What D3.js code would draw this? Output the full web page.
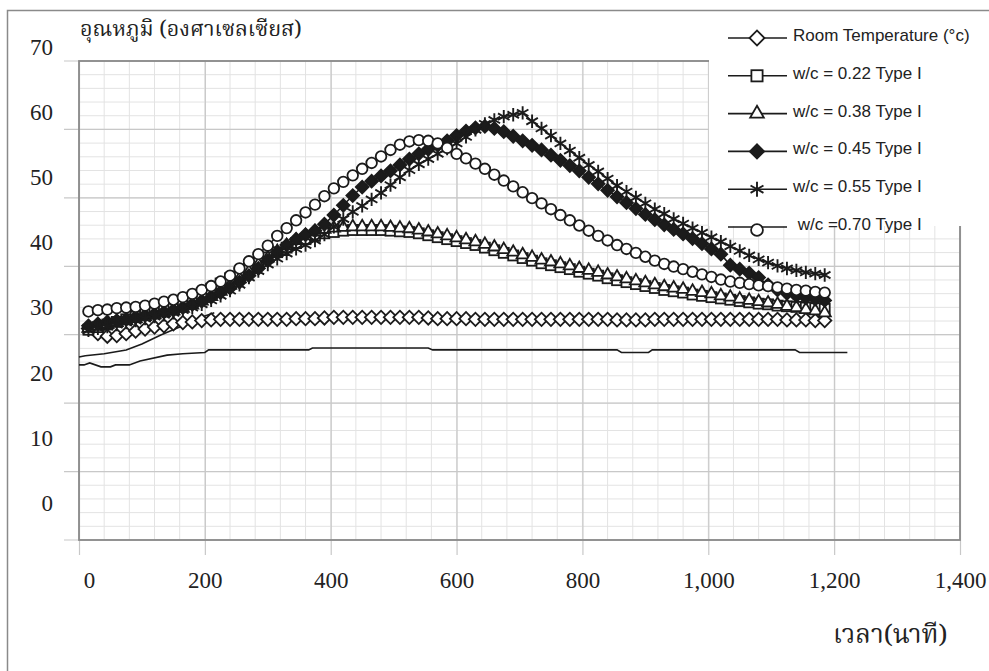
<!DOCTYPE html>
<html>
<head>
<meta charset="utf-8">
<script src="https://cdn.jsdelivr.net/npm/d3@7"></script>
<style>
    body { margin: 0; background: #fff; }
    .legend text { white-space: pre; }
</style>
</head>
<body>
<div id="chart"></div>
<script>
// minutes since casting
const times = [15, 30, 45, 60, 75, 90, 105, 120, 135, 150,
    165, 180, 195, 210, 225, 240, 255, 270, 285, 300,
    315, 330, 345, 360, 375, 390, 405, 420, 435, 450,
    465, 480, 495, 510, 525, 540, 555, 570, 585, 600,
    615, 630, 645, 660, 675, 690, 705, 720, 735, 750,
    765, 780, 795, 810, 825, 840, 855, 870, 885, 900,
    915, 930, 945, 960, 975, 990, 1005, 1020, 1035, 1050,
    1065, 1080, 1095, 1110, 1125, 1140, 1155, 1170, 1185];

const roomTemp = [26.8, 26.0, 25.6, 25.7, 26.0, 26.4, 26.7, 27.0, 27.2, 27.5,
    27.7, 27.8, 28.0, 28.1, 28.2, 28.2, 28.2, 28.2, 28.2, 28.2,
    28.2, 28.2, 28.3, 28.3, 28.3, 28.4, 28.5, 28.5, 28.5, 28.5,
    28.5, 28.5, 28.5, 28.5, 28.5, 28.5, 28.4, 28.3, 28.3, 28.3,
    28.3, 28.2, 28.2, 28.2, 28.2, 28.2, 28.2, 28.2, 28.2, 28.2,
    28.2, 28.2, 28.2, 28.2, 28.2, 28.2, 28.1, 28.1, 28.1, 28.1,
    28.2, 28.2, 28.2, 28.2, 28.2, 28.2, 28.2, 28.2, 28.2, 28.2,
    28.2, 28.2, 28.2, 28.2, 28.1, 28.1, 28.1, 28.0, 28.0];

const wc022 = [26.6, 27.0, 27.4, 27.8, 28.2, 28.6, 29.0, 29.4, 29.8, 30.3,
    30.8, 31.4, 32.1, 32.9, 33.7, 34.5, 35.3, 36.1, 36.9, 37.7,
    38.5, 39.2, 39.9, 40.5, 41.0, 41.4, 41.6, 41.8, 41.9, 41.9,
    41.9, 41.9, 41.8, 41.7, 41.6, 41.4, 41.1, 40.8, 40.5, 40.2,
    39.9, 39.6, 39.2, 38.8, 38.4, 38.0, 37.6, 37.2, 36.8, 36.5,
    36.2, 35.9, 35.5, 35.2, 34.9, 34.5, 34.2, 33.9, 33.6, 33.3,
    33.0, 32.7, 32.5, 32.3, 32.0, 31.8, 31.6, 31.4, 31.2, 31.0,
    30.8, 30.6, 30.5, 30.3, 30.2, 30.1, 30.0, 29.9, 29.8];

const wc038 = [26.8, 27.1, 27.4, 27.7, 28.0, 28.3, 28.6, 28.9, 29.2, 29.5,
    29.9, 30.4, 31.0, 31.7, 32.5, 33.4, 34.4, 35.5, 36.6, 37.6,
    38.6, 39.5, 40.3, 41.0, 41.6, 42.0, 42.2, 42.3, 42.4, 42.4,
    42.4, 42.4, 42.3, 42.2, 42.1, 41.9, 41.6, 41.3, 41.0, 40.7,
    40.4, 40.1, 39.7, 39.3, 38.9, 38.5, 38.1, 37.7, 37.3, 37.0,
    36.7, 36.4, 36.0, 35.7, 35.4, 35.0, 34.7, 34.4, 34.1, 33.8,
    33.5, 33.2, 33.0, 32.8, 32.5, 32.3, 32.1, 31.8, 31.6, 31.3,
    31.1, 30.9, 30.7, 30.5, 30.2, 30.0, 29.7, 29.5, 29.2];

const wc045 = [27.2, 27.5, 27.8, 28.0, 28.2, 28.5, 28.8, 29.0, 29.3, 29.6,
    30.0, 30.5, 31.0, 31.6, 32.3, 33.0, 33.9, 34.9, 36.0, 37.2,
    38.5, 39.6, 40.5, 41.2, 41.8, 42.8, 44.2, 45.7, 47.2, 48.5,
    49.4, 50.2, 51.0, 51.9, 52.8, 53.6, 54.3, 54.9, 55.6, 56.4,
    57.1, 57.6, 57.8, 57.5, 57.0, 56.3, 55.6, 54.9, 54.2, 53.4,
    52.6, 51.8, 51.0, 50.0, 49.0, 48.0, 47.0, 46.1, 45.2, 44.3,
    43.5, 42.7, 42.0, 41.3, 40.6, 39.8, 39.0, 38.2, 36.5, 35.9,
    35.3, 34.6, 33.5, 32.7, 32.2, 31.8, 31.5, 31.3, 31.1];

const wc055 = [26.5, 26.8, 27.1, 27.4, 27.7, 28.0, 28.3, 28.6, 28.9, 29.2,
    29.6, 30.0, 30.5, 31.1, 31.8, 32.6, 33.5, 34.6, 35.6, 36.6,
    37.5, 38.3, 39.0, 39.6, 40.3, 41.2, 42.4, 43.6, 44.7, 45.6,
    46.6, 47.6, 48.8, 50.0, 51.1, 52.0, 52.8, 53.6, 54.4, 55.2,
    56.2, 57.3, 58.2, 58.8, 59.3, 59.6, 59.9, 58.6, 57.5, 56.4,
    55.2, 54.1, 53.0, 51.9, 50.9, 49.8, 48.7, 47.8, 46.9, 46.0,
    45.1, 44.4, 43.6, 42.9, 42.2, 41.5, 40.8, 40.1, 39.4, 38.7,
    38.0, 37.4, 36.9, 36.4, 36.0, 35.7, 35.4, 35.2, 35.0];

const wc070 = [29.4, 29.6, 29.7, 29.9, 30.0, 30.1, 30.3, 30.6, 30.9, 31.2,
    31.6, 32.1, 32.7, 33.3, 34.0, 34.9, 36.0, 37.1, 38.2, 39.5,
    41.0, 42.2, 43.4, 44.6, 45.8, 47.1, 48.3, 49.3, 50.3, 51.3,
    52.2, 53.2, 54.2, 55.0, 55.5, 55.7, 55.6, 55.2, 54.5, 53.6,
    52.9, 52.1, 51.3, 50.4, 49.5, 48.6, 47.7, 46.8, 46.0, 45.1,
    44.2, 43.4, 42.6, 41.8, 41.0, 40.3, 39.6, 39.0, 38.4, 37.8,
    37.2, 36.7, 36.3, 35.9, 35.5, 35.1, 34.7, 34.3, 34.0, 33.8,
    33.6, 33.4, 33.3, 33.1, 32.9, 32.7, 32.6, 32.4, 32.3];

// two unlabelled traces without markers
const traceATimes = [0, 10, 40, 75, 100, 130, 160, 185, 215];
const traceATemps = [22.4, 22.6, 22.9, 23.5, 24.4, 25.8, 27.0, 28.2, 29.2];
const traceBTimes = [0, 8, 17, 35, 50, 58, 80, 97, 140, 165, 200, 206, 365, 371,
    555, 562, 855, 862, 905, 911, 1138, 1145, 1221];
const traceBTemps = [21.2, 21.2, 21.5, 20.9, 20.9, 21.2, 21.2, 21.8, 22.7, 22.9, 23.1, 23.5, 23.5, 23.8,
    23.8, 23.5, 23.5, 23.1, 23.1, 23.5, 23.5, 23.1, 23.1];

const seriesNames = ["Room Temperature (°c)", "w/c = 0.22 Type I", "w/c = 0.38 Type I",
    "w/c = 0.45 Type I", "w/c = 0.55 Type I", " w/c =0.70 Type I"];
const seriesMarkers = ["diamond", "square", "triangle", "filledDiamond", "asterisk", "circle"];
const seriesValues = [roomTemp, wc022, wc038, wc045, wc055, wc070];

const xTicks = [0, 200, 400, 600, 800, 1000, 1200, 1400];
const yTicks = [0, 10, 20, 30, 40, 50, 60, 70];
const yTitle = "อุณหภูมิ (องศาเซลเซียส)";
const xTitle = "เวลา(นาที)";

class HeatChart {

    constructor() {
        this.width = 989;
        this.height = 671;
        this.plot = {left: 79, right: 960, top: 61, bottom: 540};
        this.ink = "#1b1b1b";
        this.thaiFont = "'Noto Serif Thai', 'Noto Sans Thai', 'Loma', 'Garuda', 'Norasi', 'Liberation Serif', serif";
    }

    marker(sel, type, big) {
        let k = big ? 1.12 : 1;
        let that = this;
        sel.each(function() {
            let g = d3.select(this);
            if (type === "diamond" || type === "filledDiamond") {
                let s = (type === "diamond" ? 9.4 : 9) * k;
                g.append("rect")
                    .attr("x", -s / 2).attr("y", -s / 2)
                    .attr("width", s).attr("height", s)
                    .attr("transform", "rotate(45)")
                    .attr("fill", type === "diamond" ? "#fff" : that.ink)
                    .attr("stroke", that.ink).attr("stroke-width", 1.8);
            } else if (type === "square") {
                let s = 10 * k;
                g.append("rect")
                    .attr("x", -s / 2).attr("y", -s / 2)
                    .attr("width", s).attr("height", s)
                    .attr("fill", "#fff")
                    .attr("stroke", that.ink).attr("stroke-width", 1.8);
            } else if (type === "triangle") {
                g.append("path")
                    .attr("d", d3.symbol(d3.symbolTriangle, 64 * k * k)())
                    .attr("fill", "#fff")
                    .attr("stroke", that.ink).attr("stroke-width", 1.8);
            } else if (type === "asterisk") {
                g.append("path")
                    .attr("d", d3.symbol(d3.symbolAsterisk, 125 * k * k)())
                    .attr("fill", "none")
                    .attr("stroke", that.ink).attr("stroke-width", 1.9);
            } else {
                g.append("circle")
                    .attr("r", 5.3 * k)
                    .attr("fill", "#fff")
                    .attr("stroke", that.ink).attr("stroke-width", 1.8);
            }
        });
    }

    draw() {
        let that = this;
        let p = this.plot;

        let svg = d3.select("#chart").append("svg")
            .attr("width", this.width)
            .attr("height", this.height);

        svg.append("rect").attr("width", this.width).attr("height", this.height).attr("fill", "#fff");

        let xScale = d3.scaleLinear().domain([0, 1400]).range([p.left, p.right]);
        let yScale = d3.scaleLinear().domain([0, 70]).range([503, 47]);
        // the grid does not line up with the value labels in the original figure
        let gridScale = d3.scaleLinear().domain([0, 35]).range([p.bottom, p.top]);

        let grid = svg.append("g").attr("class", "grid");

        grid.selectAll("line.vminor")
            .data(d3.range(0, 1401, 40))
            .join("line")
            .attr("class", "vminor")
            .attr("x1", d => xScale(d)).attr("x2", d => xScale(d))
            .attr("y1", p.top).attr("y2", p.bottom)
            .attr("stroke", "#e3e3e3").attr("stroke-width", 1);

        grid.selectAll("line.hminor")
            .data(d3.range(0, 36))
            .join("line")
            .attr("class", "hminor")
            .attr("x1", p.left).attr("x2", p.right)
            .attr("y1", d => gridScale(d)).attr("y2", d => gridScale(d))
            .attr("stroke", "#e3e3e3").attr("stroke-width", 1);

        grid.selectAll("line.hmajor")
            .data(d3.range(0, 36, 5))
            .join("line")
            .attr("class", "hmajor")
            .attr("x1", 64).attr("x2", p.right)
            .attr("y1", d => gridScale(d)).attr("y2", d => gridScale(d))
            .attr("stroke", "#c8c8c8").attr("stroke-width", 1.2);

        // bottom axis, ticks stretched up as major grid
        let xAxis = svg.append("g")
            .attr("transform", `translate(0,${p.bottom})`)
            .call(d3.axisBottom(xScale)
                .tickValues(xTicks)
                .tickFormat(d3.format(","))
                .tickSize(15)
                .tickPadding(17));
        xAxis.select(".domain").remove();
        xAxis.selectAll(".tick line")
            .attr("y1", -(p.bottom - p.top))
            .attr("stroke", "#c8c8c8").attr("stroke-width", 1.2);
        xAxis.selectAll(".tick text")
            .attr("font-family", "'Liberation Serif', 'Times New Roman', serif")
            .attr("font-size", 23)
            .attr("fill", "#222")
            .attr("dx", d => d === 0 ? 10 : 0);

        let yAxis = svg.append("g")
            .attr("transform", "translate(53,0)")
            .call(d3.axisLeft(yScale).tickValues(yTicks).tickSize(0).tickPadding(0));
        yAxis.select(".domain").remove();
        yAxis.selectAll(".tick text")
            .attr("font-family", "'Liberation Serif', 'Times New Roman', serif")
            .attr("font-size", 23)
            .attr("fill", "#222");

        // plot frame
        svg.append("rect")
            .attr("x", p.left).attr("y", p.top)
            .attr("width", p.right - p.left).attr("height", p.bottom - p.top)
            .attr("fill", "none")
            .attr("stroke", "#8a8a8a").attr("stroke-width", 1.8);

        let line = d3.line()
            .x(d => xScale(d[0]))
            .y(d => yScale(d[1]));

        let traces = [d3.zip(traceATimes, traceATemps), d3.zip(traceBTimes, traceBTemps)];
        svg.append("g").selectAll("path")
            .data(traces)
            .join("path")
            .attr("d", line)
            .attr("fill", "none")
            .attr("stroke", this.ink).attr("stroke-width", 1.6);

        seriesValues.forEach((vals, i) => {
            let pts = d3.zip(times, vals);
            let g = svg.append("g").attr("class", "series");
            g.append("path")
                .datum(pts)
                .attr("d", line)
                .attr("fill", "none")
                .attr("stroke", that.ink).attr("stroke-width", 1.6);
            g.selectAll("g.pt")
                .data(pts)
                .join("g")
                .attr("class", "pt")
                .attr("transform", d => `translate(${xScale(d[0])},${yScale(d[1])})`)
                .call(s => that.marker(s, seriesMarkers[i], false));
        });

        // legend sits on a white box over the top right of the plot
        svg.append("rect")
            .attr("x", 709).attr("y", 11)
            .attr("width", this.width - 709).attr("height", 215)
            .attr("fill", "#fff");

        let legend = svg.append("g").attr("class", "legend");
        let rows = legend.selectAll("g")
            .data(seriesNames)
            .join("g")
            .attr("transform", (d, i) => `translate(0,${38 + i * 37.8})`);

        rows.append("line")
            .attr("x1", 728).attr("x2", 787)
            .attr("stroke", this.ink).attr("stroke-width", 1.6);

        rows.append("g")
            .attr("transform", (d, i) => `translate(757,${i === 5 ? 3 : 0})`)
            .each(function(d, i) {
                that.marker(d3.select(this), seriesMarkers[i], true);
            });

        rows.append("text")
            .attr("x", 793).attr("y", 3)
            .attr("font-family", "'Liberation Sans', Arial, sans-serif")
            .attr("font-size", 17)
            .attr("fill", "#222")
            .text(d => d);

        // outer border of the figure
        svg.append("path")
            .attr("d", `M7.5,${this.height} V10.5 H${this.width}`)
            .attr("fill", "none")
            .attr("stroke", "#8a8a8a").attr("stroke-width", 1.5);

        svg.append("text")
            .attr("x", 80).attr("y", 36)
            .attr("font-family", this.thaiFont)
            .attr("font-size", 21.5)
            .attr("fill", "#222")
            .text(yTitle);

        svg.append("text")
            .attr("x", 833).attr("y", 643)
            .attr("font-family", this.thaiFont)
            .attr("font-size", 26)
            .attr("fill", "#222")
            .text(xTitle);
    }
}

let chart = new HeatChart();
chart.draw();
</script>
</body>
</html>
